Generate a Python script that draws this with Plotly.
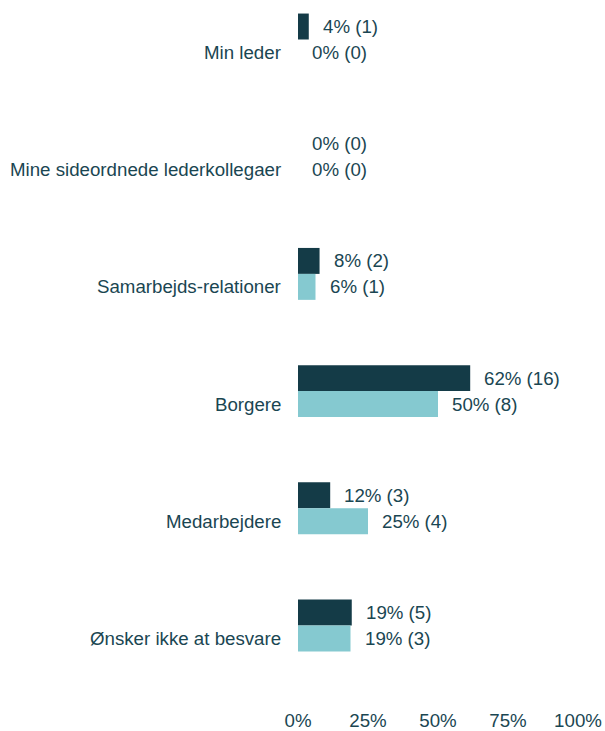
import plotly.graph_objects as go

categories = ["Min leder", "Mine sideordnede lederkollegaer", "Samarbejds-relationer",
              "Borgere", "Medarbejdere", "Ønsker ikke at besvare"]
dark_pct = [3.85, 0, 7.7, 61.5, 11.5, 19.2]
dark_cnt = [1, 0, 2, 16, 3, 5]
light_pct = [0, 0, 6.25, 50, 25, 18.75]
light_cnt = [0, 0, 1, 8, 4, 3]
x_ticks = [0, 25, 50, 75, 100]
x_tick_labels = ["0%", "25%", "50%", "75%", "100%"]

DARK = "#143b47"
LIGHT = "#85c9d0"
TEXT = "#1a4652"
FONT = "Liberation Sans, Arial, sans-serif"
FS = 18.7

fig = go.Figure()
fig.add_trace(go.Bar(y=categories, x=dark_pct, orientation="h", marker_color=DARK,
                     marker_line_width=0, showlegend=False, hoverinfo="skip"))
fig.add_trace(go.Bar(y=categories, x=light_pct, orientation="h", marker_color=LIGHT,
                     marker_line_width=0, showlegend=False, hoverinfo="skip"))

ann = []
for c, p, n in zip(categories, dark_pct, dark_cnt):
    ann.append(dict(x=p, y=c, xref="x", yref="y", text=f"{round(p)}% ({n})",
                    xanchor="left", yanchor="middle", xshift=12, yshift=13,
                    showarrow=False, font=dict(family=FONT, size=FS, color=TEXT)))
for c, p, n in zip(categories, light_pct, light_cnt):
    ann.append(dict(x=p, y=c, xref="x", yref="y", text=f"{round(p)}% ({n})",
                    xanchor="left", yanchor="middle", xshift=12, yshift=-13,
                    showarrow=False, font=dict(family=FONT, size=FS, color=TEXT)))
for c in categories:
    ann.append(dict(x=0, y=c, xref="paper", yref="y", text=c,
                    xanchor="right", yanchor="middle", xshift=-15, yshift=-13,
                    showarrow=False, font=dict(family=FONT, size=FS, color=TEXT)))

fig.update_layout(
    width=605, height=731,
    margin=dict(l=298, r=27, t=0, b=30),
    paper_bgcolor="white", plot_bgcolor="white",
    barmode="group", bargap=0.557, bargroupgap=0,
    font=dict(family=FONT, size=FS, color=TEXT),
    annotations=ann,
    xaxis=dict(range=[0, 100], tickvals=x_ticks, ticktext=x_tick_labels,
               showgrid=False, zeroline=False, showline=False, ticks="",
               ticklabelstandoff=10,
               tickfont=dict(family=FONT, size=FS, color=TEXT), fixedrange=True),
    yaxis=dict(type="category", categoryorder="array", categoryarray=categories,
               range=[5.61, -0.337], showticklabels=False, showgrid=False,
               zeroline=False, showline=False, ticks="", fixedrange=True),
)
fig.write_html("out.html", config={"displayModeBar": False},
               post_script="document.body.style.margin='0';document.body.style.overflow='hidden';")
